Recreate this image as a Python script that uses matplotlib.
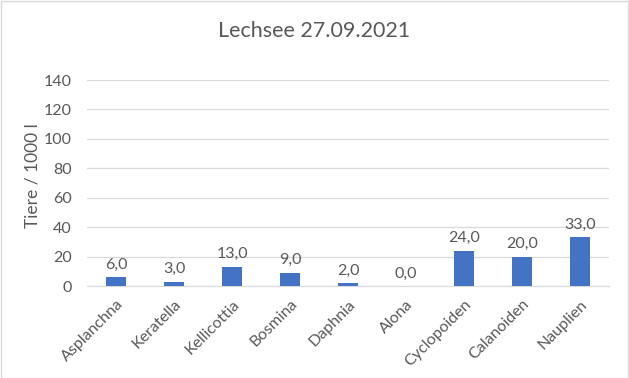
import matplotlib
matplotlib.use("Agg")
import matplotlib.pyplot as plt
from matplotlib.patches import Rectangle

categories = ["Asplanchna", "Keratella", "Kellicottia", "Bosmina", "Daphnia",
              "Alona", "Cyclopoiden", "Calanoiden", "Nauplien"]
values = [6.0, 3.0, 13.0, 9.0, 2.0, 0.0, 24.0, 20.0, 33.0]
yticks = [0, 20, 40, 60, 80, 100, 120, 140]
title = "Lechsee 27.09.2021"
ylabel = "Tiere / 1000 l"

plt.rcParams['font.family'] = ['Lato', 'DejaVu Sans']
txt = "#595959"
fs = 11.5

fig = plt.figure(figsize=(6.29, 3.78), dpi=100)
ax = fig.add_axes([87/629, 1-286/378, (609-87)/629, (286-80)/378])

x = list(range(len(categories)))
ax.bar(x, values, width=0.33, color="#4472C4", zorder=3)
for xi, v in zip(x, values):
    ax.annotate(f"{v:.1f}".replace(".", ","), (xi, v), xytext=(0, 4),
                textcoords="offset points", ha="center", va="bottom",
                fontsize=fs, color=txt)

ax.set_xlim(-0.5, len(categories) - 0.5)
ax.set_ylim(0, 140)
ax.set_yticks(yticks)
ax.set_xticks(x)
ax.set_xticklabels(categories, rotation=45, ha="right", rotation_mode="anchor",
                   fontsize=fs, color=txt)
ax.tick_params(axis="both", length=0, labelsize=fs, labelcolor=txt)
ax.tick_params(axis="y", pad=11)
ax.tick_params(axis="x", pad=8)
ax.grid(axis="y", color="#d9d9d9", linewidth=0.9, zorder=0)
for s in ["top", "right", "left"]:
    ax.spines[s].set_visible(False)
ax.spines["bottom"].set_color("#d9d9d9")
ax.set_facecolor("none")

fig.text(33/629, 1-176/378, ylabel, rotation=90, ha="center", va="center",
         fontsize=12.5, color=txt)
fig.text(314/629, 1-31/378, title, ha="center", va="center",
         fontsize=15.5, color=txt)

fig.patches.append(Rectangle((0.5/629, 0.5/378), 1-1.5/629, 1-1.5/378,
                             transform=fig.transFigure, fill=False,
                             edgecolor="#d9d9d9", linewidth=1))

fig.savefig("out.png", dpi=100)
